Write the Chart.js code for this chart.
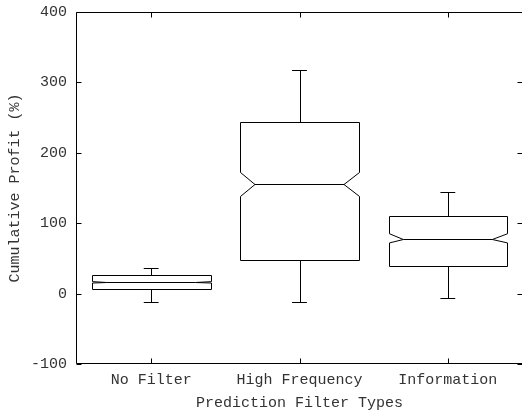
<!DOCTYPE html>
<html>
<head>
<meta charset="utf-8">
<script src="https://cdn.jsdelivr.net/npm/chart.js@4/dist/chart.umd.min.js"></script>
<style>
html,body{margin:0;padding:0;background:#fff;}
#wrap{width:522px;height:415px;}
</style>
</head>
<body>
<div id="wrap"><canvas id="c" width="522" height="415"></canvas></div>
<script>
const categories = ['No Filter', 'High Frequency', 'Information'];
const whiskerLow = [-12, -12, -6];
const q1 = [6, 48, 39];
const median = [16, 155, 78];
const q3 = [27, 244, 110];
const whiskerHigh = [37, 318, 144];
const notchLow = [15, 138, 72];
const notchHigh = [17, 172, 85];
const yTicks = [-100, 0, 100, 200, 300, 400];

const FONT = {family: '"Liberation Mono", "DejaVu Sans Mono", monospace', size: 15};
const INK = '#333';

const boxPlugin = {
  id: 'boxplot',
  beforeDraw(chart) {
    const ctx = chart.ctx;
    ctx.save();
    ctx.fillStyle = '#fff';
    ctx.fillRect(0, 0, chart.width, chart.height);
    ctx.restore();
  },
  afterDatasetsDraw(chart) {
    const ctx = chart.ctx;
    const xs = chart.scales.x, ys = chart.scales.y;
    const a = chart.chartArea;
    const px = v => Math.round(v) + 0.5;
    ctx.save();
    ctx.strokeStyle = '#000';
    ctx.lineWidth = 1;
    // frame
    const L = px(a.left) - 1, R = px(a.right), T = px(a.top), B = px(a.bottom) - 1;
    ctx.beginPath();
    ctx.moveTo(L, T); ctx.lineTo(R, T); ctx.lineTo(R, B); ctx.lineTo(L, B); ctx.closePath();
    ctx.stroke();
    // inward ticks
    const tl = 5;
    ctx.beginPath();
    yTicks.forEach(v => {
      const y = px(ys.getPixelForValue(v));
      ctx.moveTo(L, y); ctx.lineTo(L + tl, y);
      ctx.moveTo(R, y); ctx.lineTo(R - tl, y);
    });
    categories.forEach((c, i) => {
      const x = px(xs.getPixelForValue(i + 1));
      ctx.moveTo(x, B); ctx.lineTo(x, B - tl);
      ctx.moveTo(x, T); ctx.lineTo(x, T + tl);
    });
    ctx.stroke();
    // boxes
    const half = 0.4, inset = 0.1, cap = 0.05;
    categories.forEach((c, i) => {
      const xc = i + 1;
      const xl = px(xs.getPixelForValue(xc - half));
      const xr = px(xs.getPixelForValue(xc + half));
      const xli = xs.getPixelForValue(xc - half + inset);
      const xri = xs.getPixelForValue(xc + half - inset);
      const xm = px(xs.getPixelForValue(xc));
      const cl = xs.getPixelForValue(xc - cap), cr = xs.getPixelForValue(xc + cap);
      const yq1 = px(ys.getPixelForValue(q1[i]));
      const yq3 = px(ys.getPixelForValue(q3[i]));
      const ym = px(ys.getPixelForValue(median[i]));
      const ynl = ys.getPixelForValue(notchLow[i]);
      const ynh = ys.getPixelForValue(notchHigh[i]);
      const ywl = px(ys.getPixelForValue(whiskerLow[i]));
      const ywh = px(ys.getPixelForValue(whiskerHigh[i]));
      ctx.beginPath();
      ctx.moveTo(xl, yq3); ctx.lineTo(xr, yq3); ctx.lineTo(xr, ynh);
      ctx.lineTo(xri, ym); ctx.lineTo(xr, ynl); ctx.lineTo(xr, yq1);
      ctx.lineTo(xl, yq1); ctx.lineTo(xl, ynl); ctx.lineTo(xli, ym);
      ctx.lineTo(xl, ynh); ctx.closePath();
      ctx.stroke();
      ctx.beginPath();
      ctx.moveTo(xli, ym); ctx.lineTo(xri, ym);
      ctx.moveTo(xm, yq3); ctx.lineTo(xm, ywh);
      ctx.moveTo(cl, ywh); ctx.lineTo(cr, ywh);
      ctx.moveTo(xm, yq1); ctx.lineTo(xm, ywl);
      ctx.moveTo(cl, ywl); ctx.lineTo(cr, ywl);
      ctx.stroke();
    });
    ctx.restore();
  }
};

new Chart(document.getElementById('c'), {
  type: 'scatter',
  data: {
    datasets: [{
      data: categories.map((c, i) => ({x: i + 1, y: median[i]})),
      pointRadius: 0,
      showLine: false
    }]
  },
  options: {
    responsive: false,
    animation: false,
    events: [],
    layout: {padding: {top: 12, right: 0, bottom: 0, left: 0}},
    plugins: {legend: {display: false}, tooltip: {enabled: false}},
    scales: {
      x: {
        type: 'linear', min: 0.5, max: 3.5,
        afterBuildTicks(s) { s.ticks = categories.map((c, i) => ({value: i + 1})); },
        afterFit(s) { s.height = 51; s.paddingLeft = 0; s.paddingRight = 0; },
        grid: {display: false, drawTicks: false},
        border: {display: false},
        ticks: {
          autoSkip: false, maxRotation: 0, padding: 7,
          color: INK, font: FONT,
          callback: v => categories[v - 1]
        },
        title: {display: true, text: 'Prediction Filter Types', color: INK, font: FONT, padding: {top: 0, bottom: 3}}
      },
      y: {
        min: -100, max: 400,
        afterBuildTicks(s) { s.ticks = yTicks.map(v => ({value: v})); },
        afterFit(s) { s.width = 77; s.paddingTop = 0; s.paddingBottom = 0; },
        grid: {display: false, drawTicks: false},
        border: {display: false},
        ticks: {padding: 10, color: INK, font: FONT},
        title: {display: true, text: 'Cumulative Profit (%)', color: INK, font: FONT, padding: {top: 6, bottom: 0}}
      }
    }
  },
  plugins: [boxPlugin]
});
</script>
</body>
</html>
